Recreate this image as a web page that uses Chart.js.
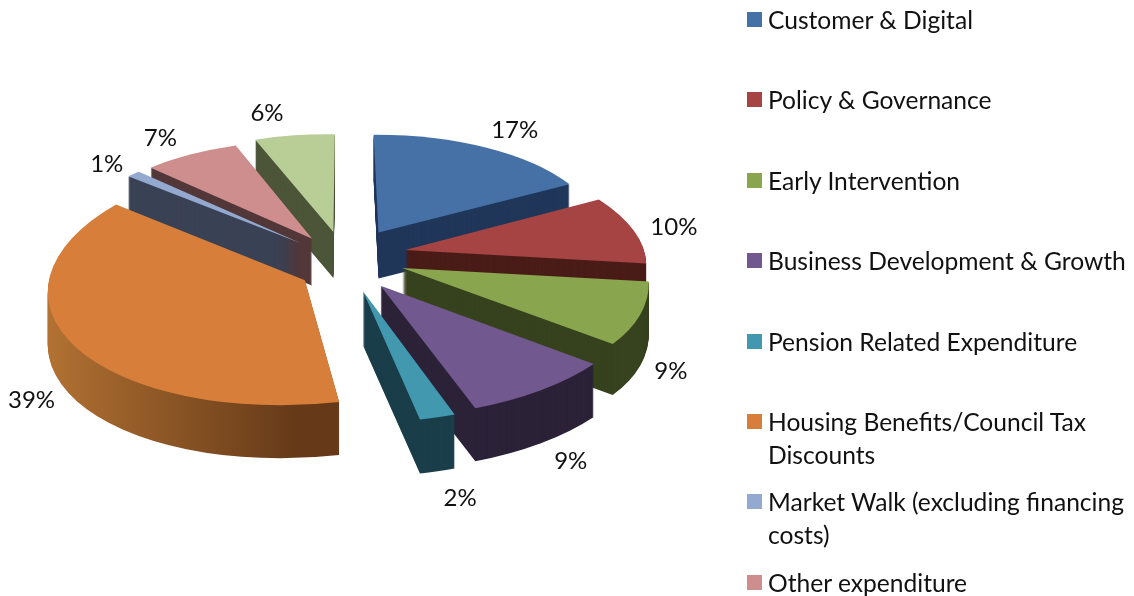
<!DOCTYPE html>
<html>
<head>
<meta charset="utf-8">
<script src="https://cdn.jsdelivr.net/npm/chart.js@4/dist/chart.umd.js"></script>
<style>
	html, body { margin: 0; background: #fff; overflow: hidden; }
	#wrap { position: relative; width: 1134px; height: 596px; }
	#legend { position: absolute; left: 747px; top: 3px; width: 387px; margin: 0; padding: 0; list-style: none; font: 24.6px Lato, sans-serif; color: #111; }
	#legend li { position: relative; height: 80.4px; padding-left: 21px; line-height: 33px; box-sizing: border-box; }
	#legend i { position: absolute; left: 0; top: 9px; width: 15px; height: 15px; }
</style>
</head>
<body>
<div id="wrap">
	<canvas id="pie-chart" width="1134" height="596"></canvas>
	<ul id="legend"></ul>
</div>
<script>
// the last slice has no legend entry in the source picture
const categories = ["Customer & Digital", "Policy & Governance", "Early Intervention", "Business Development & Growth", "Pension Related Expenditure", "Housing Benefits/Council Tax Discounts", "Market Walk (excluding financing costs)", "Other expenditure"];
const values = [17, 10, 9, 9, 2, 39, 1, 7, 6];
const topColors = ["#4571a7", "#a54442", "#89a54e", "#71588f", "#4198af", "#d77f3a", "#93a9cf", "#cf8e8e", "#b9cd96"];
const wallColors = ["#20375a", "#4a1c18", "#37421e", "#2c2238", "#1a3f4a", ["#c07c38", "#663a18"], "#3a4255", "#53383a", "#4c5538"];
const explodes = [62, 58, 58, 60, 60, 50, 58, 58, 62];
const sliceNudge = [[2, -2], [2, -4], [2, -2], [0, 3], [2, 4], [5, 9], [0, 2], [0, 2], [0, 1]];
const labelShift = [[20, -10], [14, -4], [-1, 29], [4, 18], [13, 18], [8, 31], [-6, 1], [-16, -4], [-23, -9]];

const radius = 240;
const tilt = 0.47;
const perspX = 0.13; // how fast x grows toward the viewer
const perspY = 0.1;
const perspSide = 0.02; // left side sits a little closer
const widen = 1.03;
const depth = 50;
const centerX = 345;
const centerY = 259;
const labelFont = "24px Lato, sans-serif";

function project(x, y) {
	const dx = x - centerX;
	const dy = y - centerY;
	const side = (perspSide * dx) / radius;
	const wx = 1 / (1 - (perspX * dy) / radius + side);
	const wy = 1 / (1 - (perspY * dy) / radius + side);
	return { x: centerX + dx * wx * widen, y: centerY + dy * tilt * wy, w: wy };
}

function apexOf(el, i) {
	const mid = (el.startAngle + el.endAngle) / 2;
	return { x: el.x + Math.cos(mid) * explodes[i], y: el.y + Math.sin(mid) * explodes[i] };
}

// affine matrix pinned at the apex, least squares fit of the projected arc (arc ends count more)
function sliceMatrix(el, i) {
	const a = apexOf(el, i);
	const A = project(a.x, a.y);
	let xx = 0, xy = 0, yy = 0, Xx = 0, Xy = 0, Yx = 0, Yy = 0;
	for (let s = 0; s <= 6; s++) {
		const t = el.startAngle + ((el.endAngle - el.startAngle) * s) / 6;
		const ux = Math.cos(t) * el.outerRadius, uy = Math.sin(t) * el.outerRadius;
		const P = project(a.x + ux, a.y + uy);
		const g = s === 0 || s === 6 ? 3 : 1;
		xx += g * ux * ux; xy += g * ux * uy; yy += g * uy * uy;
		Xx += g * (P.x - A.x) * ux; Xy += g * (P.x - A.x) * uy;
		Yx += g * (P.y - A.y) * ux; Yy += g * (P.y - A.y) * uy;
	}
	const det = xx * yy - xy * xy;
	const m11 = (Xx * yy - Xy * xy) / det;
	const m12 = (Xy * xx - Xx * xy) / det;
	const m21 = (Yx * yy - Yy * xy) / det;
	const m22 = (Yy * xx - Yx * xy) / det;
	return [m11, m21, m12, m22, A.x - m11 * a.x - m12 * a.y, A.y - m21 * a.x - m22 * a.y];
}

function centroid(el, i) {
	const a = apexOf(el, i);
	const mid = (el.startAngle + el.endAngle) / 2;
	return project(a.x + Math.cos(mid) * el.outerRadius * 0.6, a.y + Math.sin(mid) * el.outerRadius * 0.6);
}

function drawSlice(ctx, el, i, color, dy, matrix) {
	const saved = el.options;
	const a = apexOf(el, i);
	ctx.save();
	ctx.translate(sliceNudge[i][0], dy + sliceNudge[i][1]);
	ctx.transform(...matrix);
	let fill = color;
	if (Array.isArray(color)) {
		fill = ctx.createLinearGradient(a.x - el.outerRadius, 0, a.x + el.outerRadius * 0.2, 0);
		fill.addColorStop(0, color[0]);
		fill.addColorStop(1, color[1]);
	}
	ctx.translate(a.x - el.x, a.y - el.y);
	el.options = Object.assign({}, saved, { backgroundColor: fill });
	el.draw(ctx);
	el.options = saved;
	ctx.restore();
}

const pie3d = {
	id: "pie3d",
	beforeDatasetsDraw(chart) {
		const ctx = chart.ctx;
		const arcs = chart.getDatasetMeta(0).data.map((el, i) => ({ el, i }));
		arcs.sort((p, q) => centroid(p.el, p.i).y - centroid(q.el, q.i).y);
		arcs.forEach(({ el, i }) => {
			const matrix = sliceMatrix(el, i);
			const h = Math.round(depth * centroid(el, i).w);
			for (let k = h; k > 0; k--) drawSlice(ctx, el, i, wallColors[i], k, matrix);
			drawSlice(ctx, el, i, topColors[i], 0, matrix);
		});
		return false;
	},
	afterDraw(chart) {
		const ctx = chart.ctx;
		ctx.save();
		ctx.font = labelFont;
		ctx.fillStyle = "#111";
		ctx.textAlign = "center";
		ctx.textBaseline = "middle";
		chart.getDatasetMeta(0).data.forEach((el, i) => {
			const a = apexOf(el, i);
			const mid = (el.startAngle + el.endAngle) / 2;
			const r = el.outerRadius + 32;
			const p = project(a.x + Math.cos(mid) * r, a.y + Math.sin(mid) * r);
			const drop = Math.max(0, Math.sin(mid)) * depth;
			ctx.fillText(values[i] + "%", p.x + labelShift[i][0], p.y + drop + labelShift[i][1]);
		});
		ctx.restore();
	},
};

new Chart(document.getElementById("pie-chart"), {
	type: "pie",
	data: {
		labels: categories,
		datasets: [
			{
				data: values,
				backgroundColor: topColors,
				borderWidth: 0,
			},
		],
	},
	options: {
		responsive: false,
		animation: false,
		radius: radius,
		layout: { padding: { right: 1134 - 2 * centerX, bottom: 596 - 2 * centerY } },
		plugins: { legend: { display: false }, tooltip: { enabled: false } },
	},
	plugins: [pie3d],
});

const legend = document.getElementById("legend");
categories.forEach((name, i) => {
	const li = document.createElement("li");
	const box = document.createElement("i");
	box.style.background = topColors[i];
	li.appendChild(box);
	li.appendChild(document.createTextNode(name));
	legend.appendChild(li);
});
</script>
</body>
</html>
